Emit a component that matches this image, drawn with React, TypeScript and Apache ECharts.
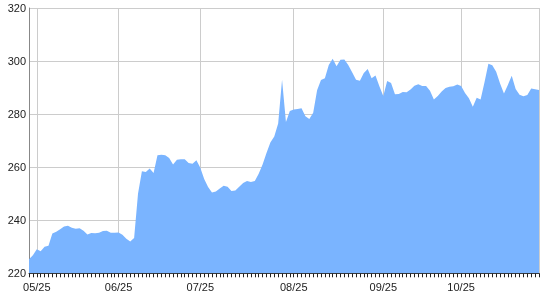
import React, { useEffect, useRef } from "react";
import * as echarts from "echarts";

const values: number[] = [
  225.3, 226.8, 229.1, 228.3, 230.0, 230.4, 235.0, 235.7, 236.6, 237.6,
  237.9, 237.2, 236.8, 237.0, 236.0, 234.6, 235.2, 235.1, 235.3, 235.9,
  236.0, 235.3, 235.3, 235.4, 234.5, 233.0, 232.0, 233.3, 250.0, 258.5,
  258.2, 259.5, 257.8, 264.5, 264.7, 264.5, 263.5, 261.0, 262.8, 263.0,
  263.0, 261.6, 261.3, 262.6, 259.8, 255.5, 252.5, 250.5, 250.8, 252.0,
  253.0, 252.6, 251.0, 251.2, 252.6, 254.0, 254.8, 254.4, 254.8, 257.5,
  261.0, 265.3, 269.3, 271.6, 276.5, 293.0, 277.0, 281.2, 281.7, 281.9,
  282.2, 279.2, 278.2, 280.5, 289.0, 292.9, 293.5, 298.5, 300.9, 298.0,
  300.5, 300.6, 298.5, 295.8, 293.0, 292.6, 295.5, 297.0, 293.5, 294.6,
  290.5, 286.8, 292.5, 291.7, 287.5, 287.6, 288.3, 288.2, 289.3, 290.7,
  291.3, 290.6, 290.6, 288.8, 285.5, 286.8, 288.5, 289.8, 290.3, 290.5,
  291.2, 290.6, 288.0, 286.0, 282.8, 286.2, 285.5, 292.0, 299.0, 298.4,
  296.0, 291.5, 287.8, 291.0, 294.5, 289.5, 287.3, 286.7, 287.2, 289.7,
  289.4, 289.1,
];

const tickLabels: string[] = ["05/25", "06/25", "07/25", "08/25", "09/25", "10/25"];
const tickIndices: number[] = [2, 23, 44, 68, 91, 111];

const yMin = 220;
const yMax = 320;
const yStep = 20;

export default function App() {
  const ref = useRef<HTMLDivElement>(null);

  useEffect(() => {
    if (!ref.current) return;
    const chart = echarts.init(ref.current, undefined, { renderer: "svg" });
    const categories = values.map((_, i) => {
      const k = tickIndices.indexOf(i);
      return k >= 0 ? tickLabels[k] : "";
    });
    const last = values.length - 1;
    chart.setOption({
      animation: false,
      grid: { left: 29, right: 1, top: 8, bottom: 26.7, containLabel: false },
      xAxis: {
        type: "category",
        boundaryGap: false,
        data: categories,
        axisLine: { show: true, lineStyle: { color: "#333", width: 1 } },
        axisTick: { show: true, interval: 0, length: 4, lineStyle: { color: "#222" } },
        axisLabel: {
          interval: (index: number) => tickIndices.includes(index),
          color: "#222",
          fontSize: 11,
          fontFamily: "Liberation Sans, Arial, sans-serif",
          margin: 8,
        },
        splitLine: {
          show: true,
          interval: (index: number) => tickIndices.includes(index) || index === last,
          lineStyle: { color: "#cccccc", width: 1 },
        },
      },
      yAxis: {
        type: "value",
        min: yMin,
        max: yMax,
        interval: yStep,
        axisLine: { show: true, lineStyle: { color: "#888", width: 1 } },
        axisTick: { show: false },
        axisLabel: {
          color: "#222",
          fontSize: 11,
          fontFamily: "Liberation Sans, Arial, sans-serif",
          margin: 3,
        },
        splitLine: { show: true, lineStyle: { color: "#cccccc", width: 1 } },
      },
      series: [
        {
          type: "line",
          data: values,
          symbol: "none",
          lineStyle: { width: 0, color: "#7ab4ff" },
          itemStyle: { color: "#7ab4ff" },
          areaStyle: { color: "#7ab4ff", opacity: 1, origin: "start" },
        },
      ],
    });
    return () => chart.dispose();
  }, []);

  return (
    <div
      ref={ref}
      style={{ position: "fixed", left: 0, top: 0, width: 540, height: 300 }}
    />
  );
}
